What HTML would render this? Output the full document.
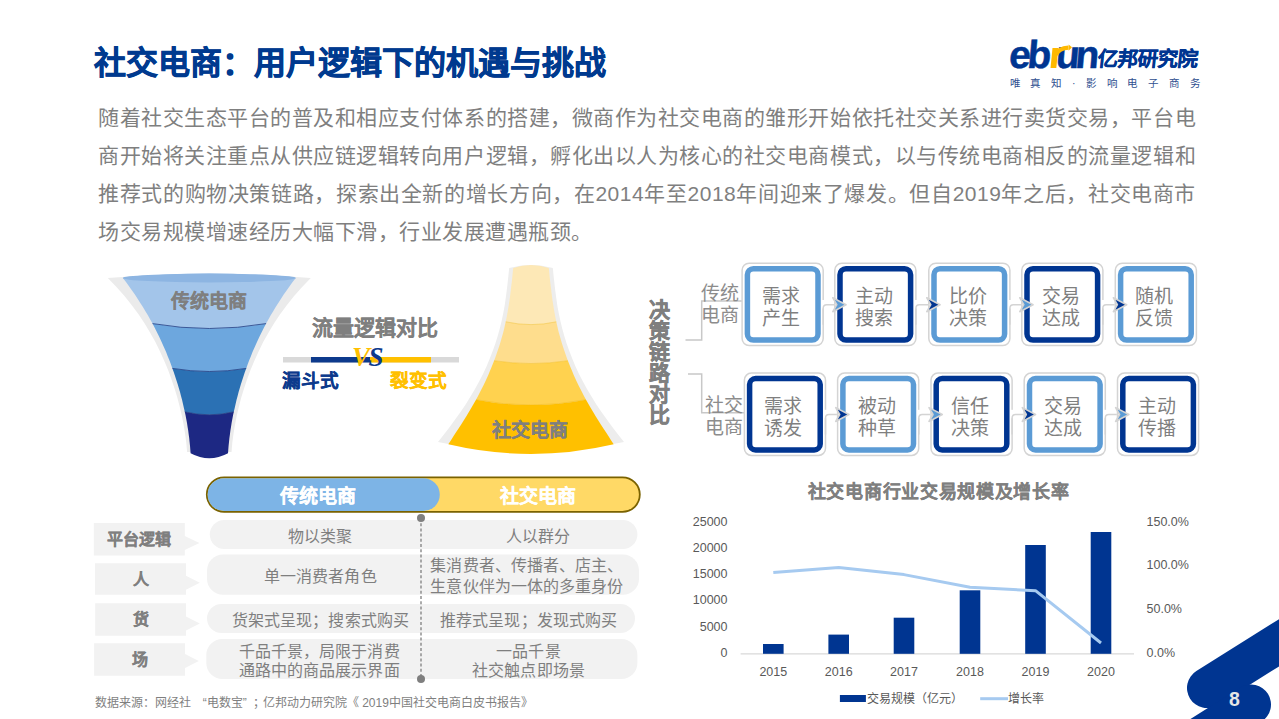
<!DOCTYPE html>
<html lang="zh-CN"><head><meta charset="utf-8">
<style>
html,body{margin:0;padding:0;background:#fff;}
body{width:1279px;height:719px;position:relative;overflow:hidden;font-family:"Liberation Sans",sans-serif;color:#7F7F7F;}
.a{position:absolute;white-space:nowrap;}
.title{position:absolute;left:94px;top:47px;font-size:32px;line-height:32px;font-weight:bold;color:#003A8F;white-space:nowrap;-webkit-text-stroke:0.6px #003A8F;}
.p{position:absolute;left:98px;width:1098px;font-size:21px;letter-spacing:0.5px;line-height:22px;height:22px;text-align:justify;text-align-last:justify;color:#7F7F7F;white-space:nowrap;}
.bt{position:absolute;font-size:19px;line-height:22px;text-align:center;color:#7F7F7F;}
.ax{position:absolute;font-size:12.5px;line-height:14px;color:#595959;white-space:nowrap;}
.lbl{position:absolute;font-size:16px;line-height:16px;font-weight:bold;color:#7F7F7F;text-align:center;white-space:nowrap;}
.cell{position:absolute;font-size:16px;line-height:20px;color:#7F7F7F;text-align:center;white-space:nowrap;}
svg{position:absolute;left:0;top:0;}
</style></head><body>
<svg width="1279" height="719" viewBox="0 0 1279 719">
<text x="1008.2" y="68.5" transform="translate(1008.2,68.5) skewX(-5) translate(-1008.2,-68.5)" font-family="Liberation Sans" font-weight="bold" font-size="39" fill="#003591" stroke="#003591" stroke-width="0.5">e</text>
<text x="1026.5" y="68.5" transform="translate(1026.5,68.5) skewX(-5) translate(-1026.5,-68.5)" font-family="Liberation Sans" font-weight="bold" font-size="39" fill="#003591" stroke="#003591" stroke-width="0.5">b</text>
<text x="1055.0" y="68.5" transform="translate(1055.0,68.5) skewX(-5) translate(-1055.0,-68.5)" font-family="Liberation Sans" font-weight="bold" font-size="39" fill="#003591" stroke="#003591" stroke-width="0.5">u</text>
<text x="1074.6" y="68.5" transform="translate(1074.6,68.5) skewX(-5) translate(-1074.6,-68.5)" font-family="Liberation Sans" font-weight="bold" font-size="39" fill="#003591" stroke="#003591" stroke-width="0.5">n</text>
<path d="M1050.5,68 L1056.3,68 L1058.3,48 L1052.5,48 Z" fill="#FFB900"/>
<path d="M1056.2,55 Q1058.5,48 1068.5,47.6" fill="none" stroke="#FFB900" stroke-width="4.2"/>
<path d="M1068.6,44.6 L1072,47.3 L1068.6,50.8 Z" fill="#FFB900"/>
<path d="M107.8,278.0 L116.7,287.2 L124.7,296.3 L132.0,305.5 L138.7,314.6 L144.8,323.8 L150.3,332.9 L155.4,342.1 L159.9,351.3 L164.1,360.4 L167.9,369.6 L171.3,378.7 L174.4,387.9 L177.2,397.1 L179.6,406.2 L181.8,415.4 L183.6,424.5 L185.1,433.7 L186.3,442.8 L187.1,452.0 L231.5,452.0 L232.3,442.8 L233.5,433.7 L235.0,424.5 L236.8,415.4 L239.0,406.2 L241.4,397.1 L244.2,387.9 L247.3,378.7 L250.7,369.6 L254.5,360.4 L258.7,351.3 L263.2,342.1 L268.3,332.9 L273.8,323.8 L279.9,314.6 L286.6,305.5 L293.9,296.3 L301.9,287.2 L310.8,278.0 Q209.3,270.0 107.8,278.0 Z" fill="#EBEBEB"/>
<path d="M122.8,278.0 L126.0,282.1 L129.0,286.3 L132.0,290.4 L134.9,294.6 L137.6,298.7 L140.3,302.9 L142.9,307.0 L145.4,311.2 L147.9,315.3 L150.2,319.5 L152.5,323.6 Q209.3,333.4 266.1,323.6 L266.1,323.6 L268.4,319.5 L270.7,315.3 L273.2,311.2 L275.7,307.0 L278.3,302.9 L281.0,298.7 L283.7,294.6 L286.6,290.4 L289.6,286.3 L292.6,282.1 L295.8,278.0 Q209.3,269.2 122.8,278.0 Z" fill="#A3C5EA"/>
<path d="M152.5,323.6 L154.7,327.7 L156.7,331.7 L158.7,335.8 L160.7,339.9 L162.5,344.0 L164.3,348.0 L166.1,352.1 L167.7,356.2 L169.4,360.3 L170.9,364.3 L172.4,368.4 Q209.3,374.6 246.2,368.4 L246.2,368.4 L247.7,364.3 L249.2,360.3 L250.9,356.2 L252.5,352.1 L254.3,348.0 L256.1,344.0 L257.9,339.9 L259.9,335.8 L261.9,331.7 L263.9,327.7 L266.1,323.6 Q209.3,333.4 152.5,323.6 Z" fill="#6DA7DE"/>
<path d="M172.4,368.4 L173.8,372.3 L175.1,376.3 L176.4,380.2 L177.7,384.2 L178.8,388.1 L180.0,392.1 L181.0,396.0 L182.1,400.0 L183.0,403.9 L183.9,407.9 L184.8,411.8 Q209.3,417.8 233.8,411.8 L233.8,411.8 L234.7,407.9 L235.6,403.9 L236.5,400.0 L237.6,396.0 L238.6,392.1 L239.8,388.1 L240.9,384.2 L242.2,380.2 L243.5,376.3 L244.8,372.3 L246.2,368.4 Q209.3,374.6 172.4,368.4 Z" fill="#2B71B4"/>
<path d="M184.8,411.8 L185.6,415.6 L186.3,419.3 L187.0,423.1 L187.6,426.9 L188.2,430.6 L188.7,434.4 L189.2,438.1 L189.6,441.9 L190.0,445.7 L190.3,449.4 L190.6,453.2 Q209.3,463.2 228.0,453.2 L228.0,453.2 L228.3,449.4 L228.6,445.7 L229.0,441.9 L229.4,438.1 L229.9,434.4 L230.4,430.6 L231.0,426.9 L231.6,423.1 L232.3,419.3 L233.0,415.6 L233.8,411.8 Q209.3,417.8 184.8,411.8 Z" fill="#1D2883"/>
<ellipse cx="209.3" cy="278" rx="86.5" ry="4.4" fill="#8DB5E2"/>
<path d="M152.5,323.6 Q209.3,333.4 266.1,323.6" fill="none" stroke="#233F85" stroke-opacity="0.8" stroke-width="1"/>
<path d="M172.4,368.4 Q209.3,374.6 246.2,368.4" fill="none" stroke="#233F85" stroke-opacity="0.8" stroke-width="1"/>
<path d="M184.8,411.8 Q209.3,417.8 233.8,411.8" fill="none" stroke="#233F85" stroke-opacity="0.8" stroke-width="1"/>
<path d="M509.2,268.1 L508.4,275.7 L507.6,283.2 L506.7,290.8 L505.7,298.3 L504.6,305.9 L503.2,313.5 L501.6,321.0 L499.8,328.6 L497.7,336.1 L495.3,343.7 L492.6,351.3 L489.7,358.8 L486.5,366.4 L483.0,374.0 L479.1,381.5 L475.0,389.1 L470.5,396.6 L465.8,404.2 L460.7,411.8 L455.3,419.3 L449.7,426.9 L443.9,434.4 L438.0,442.0 Q531.0,462.0 624.0,442.0 L618.1,434.4 L612.3,426.9 L606.7,419.3 L601.3,411.8 L596.2,404.2 L591.5,396.6 L587.0,389.1 L582.9,381.5 L579.0,374.0 L575.5,366.4 L572.3,358.8 L569.4,351.3 L566.7,343.7 L564.3,336.1 L562.2,328.6 L560.4,321.0 L558.8,313.5 L557.4,305.9 L556.3,298.3 L555.3,290.8 L554.4,283.2 L553.6,275.7 L552.8,268.1 Q531.0,262.0 509.2,268.1 Z" fill="#EDEDED"/>
<path d="M513.2,268.1 L512.7,273.0 L512.2,277.9 L511.7,282.7 L511.1,287.6 L510.5,292.5 L509.9,297.4 L509.2,302.3 L508.4,307.2 L507.6,312.0 L506.7,316.9 L505.7,321.8 Q531.0,327.4 556.3,321.8 L556.3,321.8 L555.3,316.9 L554.4,312.0 L553.6,307.2 L552.8,302.3 L552.1,297.4 L551.5,292.5 L550.9,287.6 L550.3,282.7 L549.8,277.9 L549.3,273.0 L548.8,268.1 Q531.0,262.1 513.2,268.1 Z" fill="#FDE8B6"/>
<path d="M505.7,321.8 L504.9,325.3 L504.1,328.9 L503.2,332.4 L502.2,335.9 L501.2,339.5 L500.2,343.0 L499.1,346.6 L497.9,350.1 L496.7,353.6 L495.4,357.2 L494.1,360.7 Q531.0,366.3 567.9,360.7 L567.9,360.7 L566.6,357.2 L565.3,353.6 L564.1,350.1 L562.9,346.6 L561.8,343.0 L560.8,339.5 L559.8,335.9 L558.8,332.4 L557.9,328.9 L557.1,325.3 L556.3,321.8 Q531.0,327.4 505.7,321.8 Z" fill="#FEDD8D"/>
<path d="M494.1,360.7 L492.7,364.2 L491.3,367.8 L489.8,371.3 L488.3,374.9 L486.7,378.4 L485.1,382.0 L483.4,385.5 L481.6,389.1 L479.8,392.6 L477.9,396.2 L476.0,399.7 Q531.0,410.3 586.0,399.7 L586.0,399.7 L584.1,396.2 L582.2,392.6 L580.4,389.1 L578.6,385.5 L576.9,382.0 L575.3,378.4 L573.7,374.9 L572.2,371.3 L570.7,367.8 L569.3,364.2 L567.9,360.7 Q531.0,366.3 494.1,360.7 Z" fill="#FFD24F"/>
<path d="M476.0,399.7 L473.7,403.7 L471.4,407.8 L469.0,411.8 L466.5,415.9 L464.0,419.9 L461.5,424.0 L458.9,428.0 L456.2,432.1 L453.6,436.1 L451.0,440.2 L448.3,444.2 Q531.0,463.6 613.7,444.2 L613.7,444.2 L611.0,440.2 L608.4,436.1 L605.8,432.1 L603.1,428.0 L600.5,424.0 L598.0,419.9 L595.5,415.9 L593.0,411.8 L590.6,407.8 L588.3,403.7 L586.0,399.7 Q531.0,410.3 476.0,399.7 Z" fill="#FFC000"/>
<path d="M505.7,321.8 Q531.0,327.4 556.3,321.8" fill="none" stroke="#F0B400" stroke-opacity="0.35" stroke-width="1"/>
<path d="M494.1,360.7 Q531.0,366.3 567.9,360.7" fill="none" stroke="#F0B400" stroke-opacity="0.35" stroke-width="1"/>
<path d="M476.0,399.7 Q531.0,410.3 586.0,399.7" fill="none" stroke="#F0B400" stroke-opacity="0.35" stroke-width="1"/>
<rect x="206.8" y="477.3" width="433" height="34.6" rx="17.3" fill="#FFD966" stroke="#7A6200" stroke-width="1.8"/>
<path d="M224,478.2 L423.4,478.2 A16.4,16.4 0 0 1 423.4,511 L224,511 A16.4,16.4 0 0 1 224,478.2 Z" fill="#7DB4E6"/>
<rect x="209.8" y="520" width="427.6" height="29.0" rx="14.5" fill="#F2F2F2"/>
<rect x="207" y="554.5" width="432.0" height="40.3" rx="16.0" fill="#F2F2F2"/>
<rect x="207" y="604" width="428.0" height="29.0" rx="14.5" fill="#F2F2F2"/>
<rect x="206.3" y="639" width="431.1" height="40.0" rx="16.0" fill="#F2F2F2"/>
<path d="M93.8,523 L184.8,523 L184.8,536.0 L199.4,543 L184.8,550.0 L184.8,555.6 L93.8,555.6 Z" fill="#F2F2F2"/>
<path d="M95,563.3 L186,563.3 L186,575.7 L199.8,582.7 L186,589.7 L186,594.8 L95,594.8 Z" fill="#F2F2F2"/>
<path d="M95.2,603.2 L186,603.2 L186,616.5 L199.8,623.5 L186,630.5 L186,635.7 L95.2,635.7 Z" fill="#F2F2F2"/>
<path d="M94.1,643.3 L185,643.3 L185,654.0 L198.8,661 L185,668.0 L185,675.8 L94.1,675.8 Z" fill="#F2F2F2"/>
<line x1="421" y1="518" x2="421" y2="679" stroke="#7F7F7F" stroke-width="1.3" stroke-dasharray="3,2.2"/>
<circle cx="421" cy="518" r="4" fill="#7F7F7F"/><circle cx="421" cy="679" r="4" fill="#7F7F7F"/>
<polyline points="685.5,340 701.7,340 701.7,301 742.5,301" fill="none" stroke="#C8C8C8" stroke-width="1.5"/>
<polyline points="688,374 701.7,374 701.7,412.8 744,412.8" fill="none" stroke="#C8C8C8" stroke-width="1.5"/>
<rect x="283" y="357" width="176" height="5.5" fill="#D9D9D9"/>
<rect x="311" y="357" width="59" height="5.5" fill="#0D3A8C"/>
<rect x="370" y="357" width="61" height="5.5" fill="#FFC000"/>
<rect x="742.1" y="263.2" width="81.1" height="82.3" rx="7" fill="#fff" stroke="#D4D4D4" stroke-width="1.5"/>
<rect x="747.4" y="268.8" width="70.6" height="71.3" rx="6" fill="#fff" stroke="#5B9BD5" stroke-width="5.5"/>
<rect x="834.8" y="263.2" width="81.1" height="82.3" rx="7" fill="#fff" stroke="#D4D4D4" stroke-width="1.5"/>
<rect x="840.0" y="268.8" width="70.6" height="71.3" rx="6" fill="#fff" stroke="#003591" stroke-width="5.5"/>
<rect x="928.8" y="263.2" width="81.1" height="82.3" rx="7" fill="#fff" stroke="#D4D4D4" stroke-width="1.5"/>
<rect x="934.0" y="268.8" width="70.6" height="71.3" rx="6" fill="#fff" stroke="#5B9BD5" stroke-width="5.5"/>
<rect x="1021.8" y="263.2" width="81.1" height="82.3" rx="7" fill="#fff" stroke="#D4D4D4" stroke-width="1.5"/>
<rect x="1027.0" y="268.8" width="70.6" height="71.3" rx="6" fill="#fff" stroke="#003591" stroke-width="5.5"/>
<rect x="1115.3" y="263.2" width="81.1" height="82.3" rx="7" fill="#fff" stroke="#D4D4D4" stroke-width="1.5"/>
<rect x="1120.6" y="268.8" width="70.6" height="71.3" rx="6" fill="#fff" stroke="#5B9BD5" stroke-width="5.5"/>
<rect x="821.8" y="300.0" width="3" height="8.5" fill="#fff"/>
<path d="M823.2,324.7 L823.2,308.2 Q823.2,304.7 826.8,304.7 L834.0,304.7" fill="none" stroke="#D4D4D4" stroke-width="1.5"/>
<path d="M832.8,297.8 L846.1,304.7 L832.8,311.7 L836.8,304.7 Z" fill="#5B9BD5" stroke="#D4D4D4" stroke-width="1.6" stroke-linejoin="round"/>
<rect x="914.4" y="300.0" width="3" height="8.5" fill="#fff"/>
<path d="M915.9,324.7 L915.9,308.2 Q915.9,304.7 919.4,304.7 L928.0,304.7" fill="none" stroke="#D4D4D4" stroke-width="1.5"/>
<path d="M926.8,297.8 L940.1,304.7 L926.8,311.7 L930.8,304.7 Z" fill="#003591" stroke="#D4D4D4" stroke-width="1.6" stroke-linejoin="round"/>
<rect x="1008.4" y="300.0" width="3" height="8.5" fill="#fff"/>
<path d="M1009.9,324.7 L1009.9,308.2 Q1009.9,304.7 1013.4,304.7 L1021.0,304.7" fill="none" stroke="#D4D4D4" stroke-width="1.5"/>
<path d="M1019.8,297.8 L1033.1,304.7 L1019.8,311.7 L1023.8,304.7 Z" fill="#5B9BD5" stroke="#D4D4D4" stroke-width="1.6" stroke-linejoin="round"/>
<rect x="1101.3" y="300.0" width="3" height="8.5" fill="#fff"/>
<path d="M1102.8,324.7 L1102.8,308.2 Q1102.8,304.7 1106.3,304.7 L1114.6,304.7" fill="none" stroke="#D4D4D4" stroke-width="1.5"/>
<path d="M1113.4,297.8 L1126.7,304.7 L1113.4,311.7 L1117.4,304.7 Z" fill="#003591" stroke="#D4D4D4" stroke-width="1.6" stroke-linejoin="round"/>
<rect x="744.4" y="373.1" width="81.1" height="82.3" rx="7" fill="#fff" stroke="#D4D4D4" stroke-width="1.5"/>
<rect x="749.6" y="378.6" width="70.6" height="71.3" rx="6" fill="#fff" stroke="#003591" stroke-width="5.5"/>
<rect x="837.6" y="373.1" width="81.1" height="82.3" rx="7" fill="#fff" stroke="#D4D4D4" stroke-width="1.5"/>
<rect x="842.9" y="378.6" width="70.6" height="71.3" rx="6" fill="#fff" stroke="#5B9BD5" stroke-width="5.5"/>
<rect x="931.0" y="373.1" width="81.1" height="82.3" rx="7" fill="#fff" stroke="#D4D4D4" stroke-width="1.5"/>
<rect x="936.2" y="378.6" width="70.6" height="71.3" rx="6" fill="#fff" stroke="#003591" stroke-width="5.5"/>
<rect x="1024.2" y="373.1" width="81.1" height="82.3" rx="7" fill="#fff" stroke="#D4D4D4" stroke-width="1.5"/>
<rect x="1029.5" y="378.6" width="70.6" height="71.3" rx="6" fill="#fff" stroke="#5B9BD5" stroke-width="5.5"/>
<rect x="1117.5" y="373.1" width="81.1" height="82.3" rx="7" fill="#fff" stroke="#D4D4D4" stroke-width="1.5"/>
<rect x="1122.8" y="378.6" width="70.6" height="71.3" rx="6" fill="#fff" stroke="#003591" stroke-width="5.5"/>
<rect x="824.0" y="409.8" width="3" height="8.5" fill="#fff"/>
<path d="M825.5,434.5 L825.5,418.0 Q825.5,414.5 829.0,414.5 L836.9,414.5" fill="none" stroke="#D4D4D4" stroke-width="1.5"/>
<path d="M835.7,407.6 L849.0,414.5 L835.7,421.5 L839.7,414.5 Z" fill="#003591" stroke="#D4D4D4" stroke-width="1.6" stroke-linejoin="round"/>
<rect x="917.2" y="409.8" width="3" height="8.5" fill="#fff"/>
<path d="M918.8,434.5 L918.8,418.0 Q918.8,414.5 922.2,414.5 L930.2,414.5" fill="none" stroke="#D4D4D4" stroke-width="1.5"/>
<path d="M929.0,407.6 L942.3,414.5 L929.0,421.5 L933.0,414.5 Z" fill="#5B9BD5" stroke="#D4D4D4" stroke-width="1.6" stroke-linejoin="round"/>
<rect x="1010.6" y="409.8" width="3" height="8.5" fill="#fff"/>
<path d="M1012.1,434.5 L1012.1,418.0 Q1012.1,414.5 1015.6,414.5 L1023.5,414.5" fill="none" stroke="#D4D4D4" stroke-width="1.5"/>
<path d="M1022.3,407.6 L1035.6,414.5 L1022.3,421.5 L1026.3,414.5 Z" fill="#003591" stroke="#D4D4D4" stroke-width="1.6" stroke-linejoin="round"/>
<rect x="1103.8" y="409.8" width="3" height="8.5" fill="#fff"/>
<path d="M1105.3,434.5 L1105.3,418.0 Q1105.3,414.5 1108.8,414.5 L1116.8,414.5" fill="none" stroke="#D4D4D4" stroke-width="1.5"/>
<path d="M1115.6,407.6 L1128.9,414.5 L1115.6,421.5 L1119.6,414.5 Z" fill="#5B9BD5" stroke="#D4D4D4" stroke-width="1.6" stroke-linejoin="round"/>
<line x1="740.6" y1="653.8" x2="1134" y2="653.8" stroke="#D9D9D9" stroke-width="1.2"/>
<rect x="763.0" y="644.0" width="20.6" height="9.8" fill="#003591"/>
<rect x="828.4" y="634.6" width="20.6" height="19.2" fill="#003591"/>
<rect x="893.7" y="617.7" width="20.6" height="36.1" fill="#003591"/>
<rect x="959.7" y="590.3" width="20.6" height="63.5" fill="#003591"/>
<rect x="1025.2" y="545.0" width="20.6" height="108.8" fill="#003591"/>
<rect x="1090.7" y="532.0" width="20.6" height="121.8" fill="#003591"/>
<polyline points="773.3,572.6 838.7,567.5 904.0,574.6 970.0,587.3 1035.5,590.7 1101.0,643.0" fill="none" stroke="#A6CAF0" stroke-width="3" stroke-linejoin="round"/>
<rect x="839.9" y="695" width="26" height="7" fill="#003591"/>
<line x1="980.2" y1="698.7" x2="1008" y2="698.7" stroke="#A6CAF0" stroke-width="3"/>
<line x1="1207" y1="688" x2="1320" y2="617" stroke="#003591" stroke-width="40" stroke-linecap="round"/>
<line x1="1251" y1="704.5" x2="1151" y2="767.5" stroke="#003591" stroke-width="40" stroke-linecap="round"/>
</svg>
<div class="title">社交电商：用户逻辑下的机遇与挑战</div>
<div class="p" style="top:106.5px">随着社交生态平台的普及和相应支付体系的搭建，微商作为社交电商的雏形开始依托社交关系进行卖货交易，平台电</div>
<div class="p" style="top:144.8px">商开始将关注重点从供应链逻辑转向用户逻辑，孵化出以人为核心的社交电商模式，以与传统电商相反的流量逻辑和</div>
<div class="p" style="top:183.1px">推荐式的购物决策链路，探索出全新的增长方向，在2014年至2018年间迎来了爆发。但自2019年之后，社交电商市</div>
<div class="p" style="top:221.4px;text-align-last:left;text-align:left">场交易规模增速经历大幅下滑，行业发展遭遇瓶颈。</div>
<div class="bt" style="left:739.9px;top:286.0px;width:82.6px">需求<br>产生</div><div class="bt" style="left:832.5px;top:286.0px;width:82.6px">主动<br>搜索</div><div class="bt" style="left:926.5px;top:286.0px;width:82.6px">比价<br>决策</div><div class="bt" style="left:1019.5px;top:286.0px;width:82.6px">交易<br>达成</div><div class="bt" style="left:1113.1px;top:286.0px;width:82.6px">随机<br>反馈</div><div class="bt" style="left:742.1px;top:395.8px;width:82.6px">需求<br>诱发</div><div class="bt" style="left:835.4px;top:395.8px;width:82.6px">被动<br>种草</div><div class="bt" style="left:928.7px;top:395.8px;width:82.6px">信任<br>决策</div><div class="bt" style="left:1022.0px;top:395.8px;width:82.6px">交易<br>达成</div><div class="bt" style="left:1115.3px;top:395.8px;width:82.6px">主动<br>传播</div>
<div class="ax" style="right:551.5px;top:514.7px;text-align:right">25000</div><div class="ax" style="right:551.5px;top:540.9px;text-align:right">20000</div><div class="ax" style="right:551.5px;top:567.1px;text-align:right">15000</div><div class="ax" style="right:551.5px;top:593.4px;text-align:right">10000</div><div class="ax" style="right:551.5px;top:619.6px;text-align:right">5000</div><div class="ax" style="right:551.5px;top:645.8px;text-align:right">0</div><div class="ax" style="left:1146.5px;top:514.7px">150.0%</div><div class="ax" style="left:1146.5px;top:558.4px">100.0%</div><div class="ax" style="left:1146.5px;top:602.1px">50.0%</div><div class="ax" style="left:1146.5px;top:645.8px">0.0%</div><div class="ax" style="left:743.3px;width:60px;text-align:center;top:664.7px">2015</div><div class="ax" style="left:808.7px;width:60px;text-align:center;top:664.7px">2016</div><div class="ax" style="left:874.0px;width:60px;text-align:center;top:664.7px">2017</div><div class="ax" style="left:940.0px;width:60px;text-align:center;top:664.7px">2018</div><div class="ax" style="left:1005.5px;width:60px;text-align:center;top:664.7px">2019</div><div class="ax" style="left:1071.0px;width:60px;text-align:center;top:664.7px">2020</div>
<div class="a" style="left:171.3px;top:291.5px;font-size:19px;line-height:19px;color:#7F7F7F;font-weight:bold;-webkit-text-stroke:0.2px #7F7F7F;">传统电商</div><div class="a" style="left:492.4px;top:421.3px;font-size:19px;line-height:19px;color:#7F7F7F;font-weight:bold;-webkit-text-stroke:0.2px #7F7F7F;">社交电商</div><div class="a" style="left:312.0px;top:317.3px;font-size:21px;line-height:21px;color:#7F7F7F;font-weight:bold;-webkit-text-stroke:0.2px #7F7F7F;">流量逻辑对比</div><div class="a" style="left:281.5px;top:372.2px;font-size:18.6px;line-height:18.6px;color:#0D3A8C;font-weight:bold;-webkit-text-stroke:0.2px #0D3A8C;">漏斗式</div><div class="a" style="left:390.0px;top:372.2px;font-size:18.6px;line-height:18.6px;color:#FFC000;font-weight:bold;-webkit-text-stroke:0.2px #FFC000;">裂变式</div><div class="a" style="left:647px;top:300px;width:24px;font-size:21px;line-height:20.9px;font-weight:bold;color:#7F7F7F;-webkit-text-stroke:0.5px #7F7F7F;white-space:normal;text-align:center">决<br>策<br>链<br>路<br>对<br>比</div><div class="a" style="left:701.0px;top:282.6px;font-size:19px;line-height:22.5px;color:#8C8C8C;">传统<br>电商</div><div class="a" style="left:704.5px;top:395.2px;font-size:19px;line-height:22px;color:#8C8C8C;">社交<br>电商</div><div class="a" style="left:207.0px;top:486.7px;font-size:19px;line-height:19px;color:#FFFFFF;font-weight:bold;-webkit-text-stroke:0.2px #FFFFFF;width:222.0px;text-align:center;">传统电商</div><div class="a" style="left:436.6px;top:486.5px;font-size:19px;line-height:19px;color:#FFFFFF;font-weight:bold;-webkit-text-stroke:0.2px #FFFFFF;width:202.0px;text-align:center;">社交电商</div><div class="a" style="left:93.8px;top:532.2px;font-size:16px;line-height:16px;color:#7F7F7F;font-weight:bold;-webkit-text-stroke:0.2px #7F7F7F;width:91.0px;text-align:center;">平台逻辑</div><div class="a" style="left:95.0px;top:572.1px;font-size:16px;line-height:16px;color:#7F7F7F;font-weight:bold;-webkit-text-stroke:0.2px #7F7F7F;width:91.0px;text-align:center;">人</div><div class="a" style="left:95.2px;top:612.1px;font-size:16px;line-height:16px;color:#7F7F7F;font-weight:bold;-webkit-text-stroke:0.2px #7F7F7F;width:90.8px;text-align:center;">货</div><div class="a" style="left:94.1px;top:652.1px;font-size:16px;line-height:16px;color:#7F7F7F;font-weight:bold;-webkit-text-stroke:0.2px #7F7F7F;width:90.9px;text-align:center;">场</div><div class="a" style="left:200.0px;top:527.1px;font-size:16px;line-height:20px;color:#7F7F7F;width:240.0px;text-align:center;letter-spacing:0.1px;">物以类聚</div><div class="a" style="left:418.0px;top:527.1px;font-size:16px;line-height:20px;color:#7F7F7F;width:240.0px;text-align:center;letter-spacing:0.1px;">人以群分</div><div class="a" style="left:200.3px;top:567.0px;font-size:16px;line-height:20px;color:#7F7F7F;width:240.0px;text-align:center;letter-spacing:0.1px;">单一消费者角色</div><div class="a" style="left:407.0px;top:556.4px;font-size:16px;line-height:20.4px;color:#7F7F7F;width:240.0px;text-align:center;letter-spacing:0.1px;">集消费者、传播者、店主、<br>生意伙伴为一体的多重身份</div><div class="a" style="left:200.4px;top:611.0px;font-size:16px;line-height:20px;color:#7F7F7F;width:240.0px;text-align:center;letter-spacing:0.1px;">货架式呈现；搜索式购买</div><div class="a" style="left:408.6px;top:611.0px;font-size:16px;line-height:20px;color:#7F7F7F;width:240.0px;text-align:center;letter-spacing:0.1px;">推荐式呈现；发现式购买</div><div class="a" style="left:199.2px;top:641.7px;font-size:16px;line-height:19.5px;color:#7F7F7F;width:240.0px;text-align:center;letter-spacing:0.1px;">千品千景，局限于消费<br>通路中的商品展示界面</div><div class="a" style="left:408.5px;top:641.7px;font-size:16px;line-height:19.5px;color:#7F7F7F;width:240.0px;text-align:center;letter-spacing:0.1px;">一品千景<br>社交触点即场景</div><div class="a" style="left:807.8px;top:482.5px;font-size:18px;line-height:18px;color:#7F7F7F;font-weight:bold;-webkit-text-stroke:0.2px #7F7F7F;letter-spacing:0.7px;">社交电商行业交易规模及增长率</div><div class="a" style="left:866.8px;top:693.3px;font-size:12px;line-height:12px;color:#595959;">交易规模（亿元）</div><div class="a" style="left:1008.0px;top:693.3px;font-size:12px;line-height:12px;color:#595959;">增长率</div><div class="a" style="left:94.8px;top:696.5px;font-size:12px;line-height:12px;color:#7F7F7F;">数据来源：网经社<span style="display:inline-block;width:16px;text-align:right">“</span>电数宝<span style="display:inline-block;width:10px;text-align:left">”</span><span style="display:inline-block;width:10px">；</span>亿邦动力研究院《 2019中国社交电商白皮书报告》</div><div class="a" style="left:1224.5px;top:688.5px;width:20px;text-align:center;font-size:19.5px;line-height:20px;font-weight:bold;color:#E6E6E6">8</div><div class="a" style="left:352px;top:343px;font-family:'Liberation Serif',serif;font-weight:bold;font-style:italic;font-size:27px;line-height:28px;letter-spacing:-1.5px"><span style="color:#FFC000">V</span><span style="color:#0D3A8C">S</span></div><div class="a" style="left:1097.0px;top:48.8px;font-size:20.4px;line-height:20.4px;color:#003591;font-weight:bold;-webkit-text-stroke:0.2px #003591;transform:skewX(-6deg);transform-origin:0 100%;letter-spacing:0px;-webkit-text-stroke:0.4px #003591;">亿邦研究院</div><div class="a" style="left:1009.8px;top:78.4px;font-size:10.5px;line-height:10.5px;color:#2F4F8F;letter-spacing:10.7px;">唯真知·影响电子商务</div>
</body></html>
